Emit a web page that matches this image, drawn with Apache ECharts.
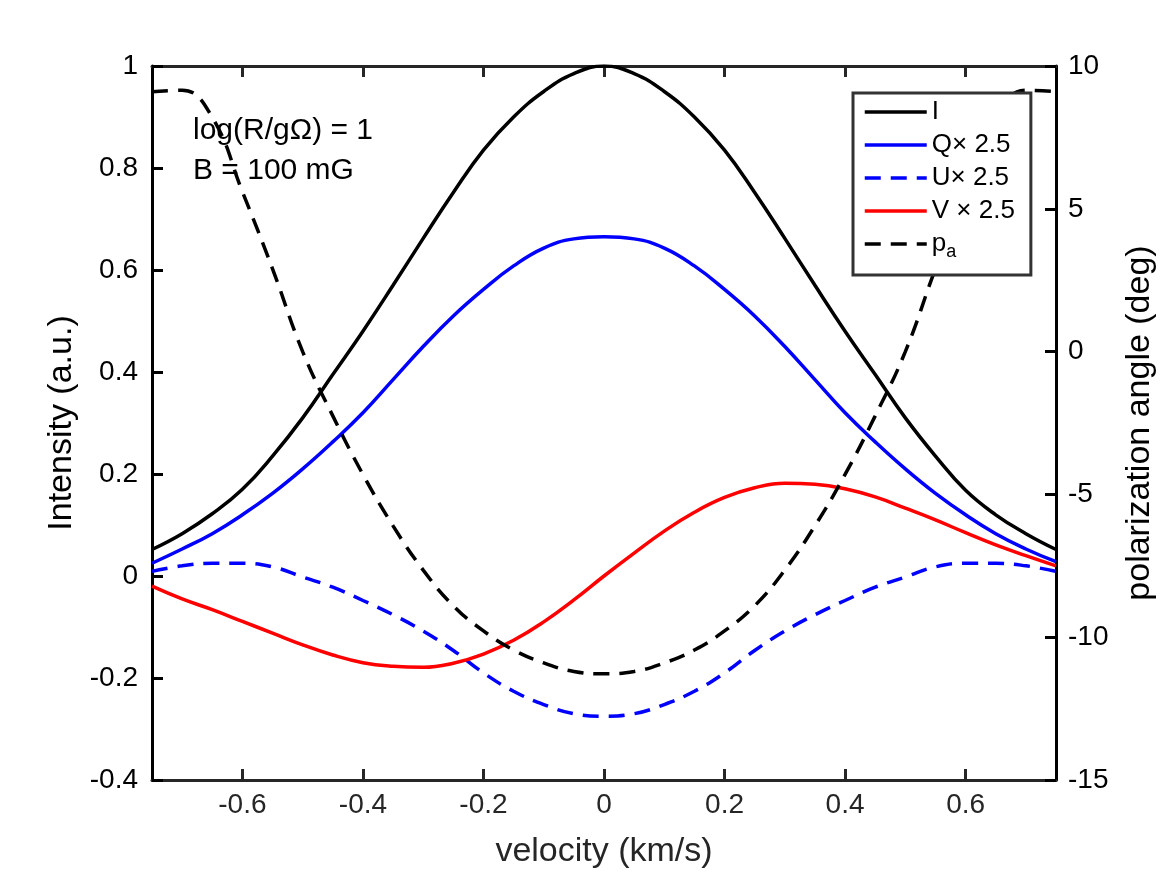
<!DOCTYPE html>
<html>
<head>
<meta charset="utf-8">
<script src="https://cdn.jsdelivr.net/npm/echarts@6/dist/echarts.min.js"></script>
<style>
  html, body { margin: 0; padding: 0; background: #fff; }
  #chart { width: 1167px; height: 875px; }
</style>
</head>
<body>
<div id="chart"></div>
<script>
/* 数据：速度网格与各条曲线 */
var velocity = [-0.75,-0.70,-0.65,-0.60,-0.55,-0.50,-0.45,-0.40,-0.35,-0.30,-0.25,-0.20,-0.15,-0.10,-0.05,0,
                0.05,0.10,0.15,0.20,0.25,0.30,0.35,0.40,0.45,0.50,0.55,0.60,0.65,0.70,0.75];

var intensityI = [0.052,0.083,0.122,0.17,0.235,0.31,0.395,0.48,0.57,0.662,0.752,0.835,0.90,0.95,0.985,1.0,
                  0.985,0.95,0.90,0.835,0.752,0.662,0.57,0.48,0.395,0.31,0.235,0.168,0.12,0.083,0.052];
var stokesQ = [0.025,0.053,0.083,0.12,0.162,0.21,0.263,0.32,0.385,0.45,0.51,0.562,0.608,0.643,0.661,0.665,
               0.661,0.643,0.608,0.562,0.51,0.45,0.385,0.32,0.263,0.21,0.162,0.12,0.083,0.053,0.028];
var stokesU = [0.009,0.02,0.025,0.025,0.018,-0.002,-0.022,-0.048,-0.076,-0.108,-0.146,-0.19,-0.226,-0.252,-0.27,-0.275,
               -0.27,-0.252,-0.226,-0.19,-0.146,-0.108,-0.076,-0.048,-0.022,-0.002,0.018,0.025,0.025,0.02,0.009];
var stokesV = [-0.02,-0.045,-0.066,-0.089,-0.112,-0.135,-0.155,-0.17,-0.177,-0.179,-0.171,-0.153,-0.126,-0.09,-0.047,0,
               0.045,0.088,0.125,0.154,0.173,0.182,0.18,0.171,0.155,0.133,0.11,0.085,0.061,0.04,0.02];
var polAngle = [9.1,9.15,8.2,5.6,2.9,0.0,-2.25,-4.3,-6.1,-7.65,-8.9,-9.78,-10.45,-10.9,-11.2,-11.28,
                -11.2,-10.9,-10.45,-9.78,-8.9,-7.65,-6.1,-4.3,-2.25,0.0,2.9,5.6,8.2,9.15,9.1];

var seriesNames = ['I', 'Q\u00d7 2.5', 'U\u00d7 2.5', 'V \u00d7 2.5', 'p_a'];
var xTicks = [-0.6,-0.4,-0.2,0,0.2,0.4,0.6];

function pairs(ys){
	var out = [];
	for (var i = 0; i < velocity.length; i++) {
		out.push([velocity[i], ys[i]]);
	}
	return out;
}

var FONT = 'Liberation Sans, Arial, Helvetica, sans-serif';
var AXIS_COLOR = '#262626';
var TICK_FONT = 28;
var NAME_FONT = 34;

var myChart = echarts.init(document.getElementById('chart'), null, {renderer: 'canvas'});

function lineSeries(name, ys, color, dashed, yIdx){
	return {
		name: name,
		type: 'line',
		yAxisIndex: yIdx,
		data: pairs(ys),
		smooth: 0.45,
		symbol: 'none',
		lineStyle: { color: color, width: 3.5, type: dashed ? [16, 10] : 'solid' },
		itemStyle: { color: color },
		z: 3
	};
}

var option = {
	animation: false,
	backgroundColor: '#fff',
	grid: { left: 152, right: 111, top: 66, bottom: 95 },
	legend: {
		orient: 'vertical',
		left: 853,
		top: 93,
		padding: [6, 16, 14, 10],
		itemWidth: 62,
		itemHeight: 14,
		itemGap: 7,
		borderColor: '#333',
		borderWidth: 3,
		borderRadius: 0,
		backgroundColor: '#fff',
		itemStyle: { opacity: 0 },
		lineStyle: { width: 3.5 },
		data: seriesNames,
		textStyle: {
			fontFamily: FONT, fontSize: 26, color: '#000',
			rich: {
				p: { fontFamily: FONT, fontSize: 26, color: '#000' },
				sub: { fontFamily: FONT, fontSize: 18, color: '#000', verticalAlign: 'bottom', padding: [16, 0, 0, 0] }
			}
		},
		formatter: function(name){
			if (name === 'p_a') return '{p|p}{sub|a}';
			return name;
		}
	},
	xAxis: [{
		type: 'value',
		min: -0.75, max: 0.75,
		name: 'velocity (km/s)',
		nameLocation: 'middle',
		nameGap: 55,
		nameTextStyle: { fontFamily: FONT, fontSize: NAME_FONT, color: AXIS_COLOR },
		axisLine: { onZero: false, lineStyle: { color: AXIS_COLOR, width: 3 } },
		axisTick: { inside: true, length: 11, lineStyle: { color: AXIS_COLOR, width: 3 },
			customValues: xTicks },
		axisLabel: { fontFamily: FONT, fontSize: TICK_FONT, color: AXIS_COLOR, margin: 11,
			customValues: xTicks },
		splitLine: { show: false }
	}, {
		type: 'value',
		position: 'top',
		min: -0.75, max: 0.75,
		axisLine: { onZero: false, lineStyle: { color: AXIS_COLOR, width: 3 } },
		axisTick: { inside: true, length: 11, lineStyle: { color: AXIS_COLOR, width: 3 },
			customValues: xTicks },
		axisLabel: { show: false },
		splitLine: { show: false }
	}],
	yAxis: [{
		type: 'value',
		min: -0.4, max: 1, interval: 0.2,
		name: 'Intensity (a.u.)',
		nameLocation: 'middle',
		nameGap: 73,
		nameTextStyle: { fontFamily: FONT, fontSize: NAME_FONT, color: '#000' },
		axisLine: { show: true, onZero: false, lineStyle: { color: '#000', width: 3 } },
		axisTick: { show: true, inside: true, length: 11, lineStyle: { color: '#000', width: 3 } },
		axisLabel: { fontFamily: FONT, fontSize: TICK_FONT, color: '#000', margin: 14,
			formatter: function(v){ return +v.toFixed(1) + ''; } },
		splitLine: { show: false }
	}, {
		type: 'value',
		position: 'right',
		min: -15, max: 10, interval: 5,
		name: 'polarization angle (deg)',
		nameLocation: 'middle',
		nameGap: 67,
		nameRotate: 90,
		nameTextStyle: { fontFamily: FONT, fontSize: NAME_FONT, color: '#000' },
		axisLine: { show: true, onZero: false, lineStyle: { color: '#000', width: 3 } },
		axisTick: { show: true, inside: true, length: 11, lineStyle: { color: '#000', width: 3 } },
		axisLabel: { fontFamily: FONT, fontSize: TICK_FONT, color: '#000', margin: 12 },
		splitLine: { show: false }
	}],
	graphic: [{
		type: 'text', left: 193, top: 116, z: 10,
		style: { text: 'log(R/g\u03a9) = 1', font: '30px ' + FONT, fill: '#000' }
	}, {
		type: 'text', left: 193, top: 156, z: 10,
		style: { text: 'B = 100 mG', font: '30px ' + FONT, fill: '#000' }
	}],
	series: [
		lineSeries(seriesNames[0], intensityI, '#000000', false, 0),
		lineSeries(seriesNames[1], stokesQ, '#0000ff', false, 0),
		lineSeries(seriesNames[2], stokesU, '#0000ff', true, 0),
		lineSeries(seriesNames[3], stokesV, '#ff0000', false, 0),
		lineSeries(seriesNames[4], polAngle, '#000000', true, 1)
	]
};

myChart.setOption(option);
</script>
</body>
</html>
